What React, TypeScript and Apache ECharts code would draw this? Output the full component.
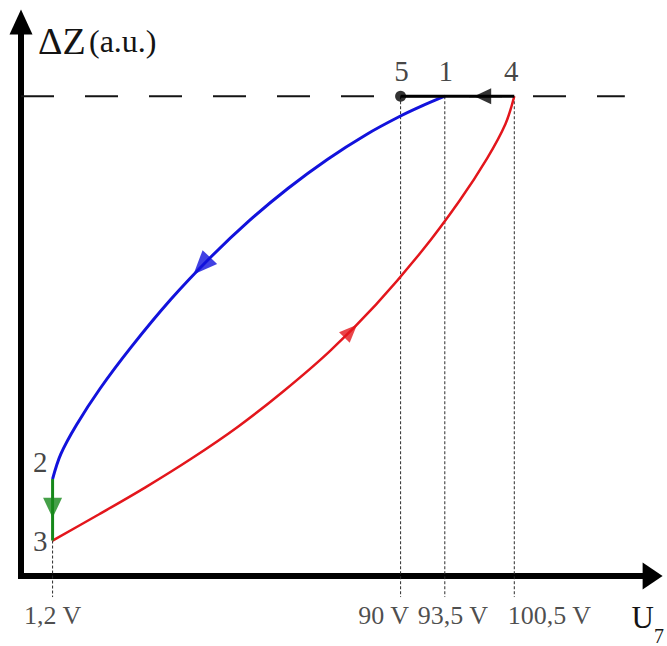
import React, { useEffect, useRef } from "react";
import * as echarts from "echarts";

// Schematic coordinates: x = position along the U7 axis, y = ΔZ (a.u.), both on a 0–100 scale.
const X_MARKS = [5.0, 60.1, 67.1, 78.1];
const X_TICK_LABELS = ["1,2 V", "90 V", "93,5 V", "100,5 V"];
const Z_TOP = 86.6; // level shared by points 5, 1 and 4
const Z_POINT2 = 17.5;
const Z_POINT3 = 6.4;
const GUIDE_BOTTOM = -3.8; // dotted guides run slightly past the U axis
const DASH_END = 95.6;

// Branch 1 → 2 (blue, decreasing voltage)
const BLUE_X = [67.1, 63.4, 59.7, 54.7, 48.5, 42.3, 36.1, 29.9, 23.7, 17.5, 12.5, 8.8, 6.3, 5.0];
const BLUE_Y = [86.6, 84.8, 82.8, 79.7, 75.2, 70.0, 64.1, 57.4, 49.9, 41.4, 33.8, 27.3, 22.0, 17.5];
// Branch 3 → 4 (red, increasing voltage)
const RED_X = [5.0, 12.3, 19.7, 27.0, 34.3, 41.6, 48.9, 56.2, 63.5, 69.4, 73.8, 76.7, 78.1];
const RED_Y = [6.4, 11.1, 16.0, 21.2, 26.9, 33.4, 40.6, 49.0, 58.7, 67.7, 75.4, 81.6, 86.6];

const POINT_NAMES = ["1", "2", "3", "4", "5"];
// Direction markers: where they sit and which stretch of the path they follow
const BLUE_ARROW = [28.6, 56.0];
const BLUE_ARROW_SEG = 7;
const RED_ARROW = [52.2, 44.2];
const RED_ARROW_SEG = 6;
const BLACK_ARROW_X = 73.1;
const GREEN_ARROW_Z = 12.3;

const BLUE = "#1212dc";
const RED = "#e3161c";
const GREEN = "#16881a";
const INK = "#141414";
const SERIF = "'Liberation Serif', 'Times New Roman', serif";

const zip = (xs: number[], ys: number[]) => xs.map((x, i) => [x, ys[i]]);

export default function App() {
  const ref = useRef<HTMLDivElement>(null);

  useEffect(() => {
    const el = ref.current;
    if (!el) return;
    const chart = echarts.init(el, null, { renderer: "svg" });

    const blue = zip(BLUE_X, BLUE_Y);
    const red = zip(RED_X, RED_Y);
    const [x12, x90, x935, x1005] = X_MARKS;
    const pts: Record<string, number[]> = {
      "1": [x935, Z_TOP],
      "2": [x12, Z_POINT2],
      "3": [x12, Z_POINT3],
      "4": [x1005, Z_TOP],
      "5": [x90, Z_TOP],
    };

    const pointLabelStyle: Record<string, any> = {
      "1": { position: "top", distance: 11, offset: [1, 0] },
      "2": { position: "left", distance: 5, offset: [0, -17] },
      "3": { position: "left", distance: 5, offset: [0, 0] },
      "4": { position: "top", distance: 11, offset: [-3, 0] },
      "5": { position: "top", distance: 11, offset: [1, 0] },
    };
    const tickOffsets = [0, -17, 8, 35];

    const build = (rot: { blue: number; red: number; black: number; green: number }) => {
      const guides = X_MARKS.map((x, i) => ({
        type: "line",
        silent: true,
        clip: false,
        symbol: "none",
        z: 1,
        data: [
          [x, i === 0 ? Z_POINT3 : Z_TOP],
          [x, GUIDE_BOTTOM],
        ],
        lineStyle: { color: "#2a2a2a", width: 1, type: [3, 2] },
      }));

      return {
        animation: false,
        backgroundColor: "#ffffff",
        grid: { left: 21, right: 10, top: 22, bottom: 65 },
        xAxis: {
          type: "value",
          min: 0,
          max: 100,
          name: "{u|U}{s|7}",
          nameLocation: "end",
          nameGap: -21,
          nameTextStyle: {
            align: "left",
            verticalAlign: "top",
            padding: [26, 0, 0, 0],
            rich: {
              u: { fontFamily: SERIF, fontSize: 31, color: INK, verticalAlign: "top", lineHeight: 31 },
              s: { fontFamily: SERIF, fontSize: 20, color: INK, verticalAlign: "top", padding: [24, 0, 0, 0], lineHeight: 20 },
            },
          },
          axisLine: {
            show: true,
            symbol: ["none", "triangle"],
            symbolSize: [27, 20],
            lineStyle: { color: "#000", width: 6, cap: "square" },
          },
          axisTick: { show: false },
          axisLabel: { show: false },
          splitLine: { show: false },
        },
        yAxis: {
          type: "value",
          min: 0,
          max: 100,
          name: "{d|ΔZ} {p|(a.u.)}",
          nameLocation: "end",
          nameGap: -19,
          nameTextStyle: {
            align: "left",
            verticalAlign: "middle",
            padding: [0, 0, 0, 17],
            rich: {
              d: { fontFamily: SERIF, fontSize: 38, color: INK },
              p: { fontFamily: SERIF, fontSize: 32, color: INK },
            },
          },
          axisLine: {
            show: true,
            symbol: ["none", "triangle"],
            symbolSize: [23, 25],
            lineStyle: { color: "#000", width: 6, cap: "square" },
          },
          axisTick: { show: false },
          axisLabel: { show: false },
          splitLine: { show: false },
        },
        series: [
          {
            type: "line",
            silent: true,
            symbol: "none",
            z: 1,
            data: [
              [0, Z_TOP],
              [DASH_END, Z_TOP],
            ],
            lineStyle: { color: INK, width: 2, type: [33, 31] },
          },
          ...guides,
          {
            type: "line",
            silent: true,
            symbol: "none",
            smooth: 0.35,
            z: 3,
            data: blue,
            lineStyle: { color: BLUE, width: 3 },
          },
          {
            type: "line",
            silent: true,
            symbol: "none",
            smooth: 0.35,
            z: 3,
            data: red,
            lineStyle: { color: RED, width: 2.5 },
          },
          {
            type: "line",
            silent: true,
            symbol: "none",
            z: 3,
            data: [pts["2"], pts["3"]],
            lineStyle: { color: GREEN, width: 3 },
          },
          {
            type: "line",
            silent: true,
            symbol: "none",
            z: 4,
            data: [pts["5"], pts["4"]],
            lineStyle: { color: "#000", width: 3 },
          },
          {
            type: "scatter",
            silent: true,
            z: 5,
            symbol: "triangle",
            data: [
              { value: BLUE_ARROW, symbolSize: [20, 24], symbolRotate: rot.blue, itemStyle: { color: BLUE } },
              { value: RED_ARROW, symbolSize: [15, 18], symbolRotate: rot.red, itemStyle: { color: RED } },
              { value: [BLACK_ARROW_X, Z_TOP], symbolSize: [16, 17], symbolRotate: rot.black, itemStyle: { color: "#000" } },
              { value: [x12, GREEN_ARROW_Z], symbolSize: [19, 20], symbolRotate: rot.green, itemStyle: { color: GREEN } },
            ],
          },
          {
            type: "scatter",
            silent: true,
            z: 6,
            symbol: "circle",
            symbolSize: 11,
            itemStyle: { color: "#000" },
            data: [pts["5"]],
          },
          {
            type: "scatter",
            silent: true,
            z: 6,
            symbolSize: 0,
            data: POINT_NAMES.map((n) => ({
              value: pts[n],
              label: {
                show: true,
                formatter: n,
                fontFamily: SERIF,
                fontSize: 29,
                lineHeight: 29,
                color: INK,
                ...pointLabelStyle[n],
              },
            })),
          },
          {
            type: "scatter",
            silent: true,
            clip: false,
            z: 6,
            symbolSize: 0,
            data: X_MARKS.map((x, i) => ({
              value: [x, 0],
              label: {
                show: true,
                formatter: X_TICK_LABELS[i],
                position: "bottom",
                distance: 26,
                offset: [tickOffsets[i], 0],
                fontFamily: SERIF,
                fontSize: 26,
                lineHeight: 26,
                color: "#1e1e1e",
              },
            })),
          },
        ],
      };
    };

    chart.setOption(build({ blue: 0, red: 0, black: 90, green: 180 }));

    // Orient each arrowhead along its path, measured in screen space.
    const toPx = (p: number[]) => chart.convertToPixel({ xAxisIndex: 0, yAxisIndex: 0 }, p) as number[];
    const heading = (a: number[], b: number[]) => {
      const pa = toPx(a);
      const pb = toPx(b);
      return (Math.atan2(-(pb[1] - pa[1]), pb[0] - pa[0]) * 180) / Math.PI - 90;
    };
    chart.setOption(
      build({
        blue: heading(blue[BLUE_ARROW_SEG], blue[BLUE_ARROW_SEG + 1]),
        red: heading(red[RED_ARROW_SEG], red[RED_ARROW_SEG + 1]),
        black: heading(pts["4"], pts["5"]),
        green: heading(pts["2"], pts["3"]),
      })
    );

    return () => chart.dispose();
  }, []);

  return (
    <div
      ref={ref}
      style={{ position: "absolute", left: 0, top: 0, width: 667, height: 646 }}
    />
  );
}
